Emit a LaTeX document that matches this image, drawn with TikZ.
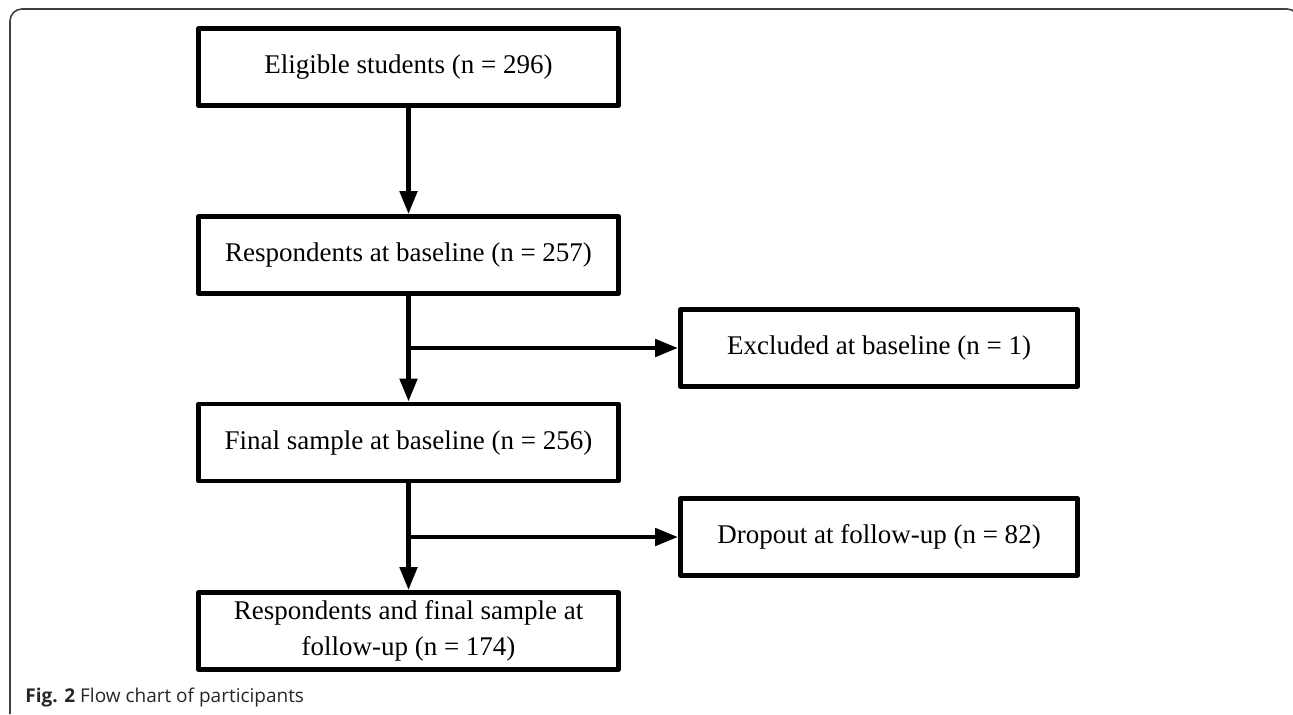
\documentclass[tikz,border=0pt]{standalone}
\usepackage{fontspec}
\setmainfont{Liberation Serif}
\newfontfamily\captionsans{Open Sans}
\usetikzlibrary{arrows.meta}
\begin{document}
\begin{tikzpicture}[x=0.5pt,y=-0.5pt,line join=round,
	>={Triangle[length=11.5pt,width=8.5pt]},
	stagebox/.style={draw,line width=2.4pt,minimum width=210pt,minimum height=38.5pt,inner sep=2pt,
		align=center,font=\fontsize{13.5}{18}\selectfont},
	lossbox/.style={stagebox,minimum width=198.5pt},
	flow/.style={->,line width=2.4pt}]
	\useasboundingbox (0,0) rectangle (1293,714);
	\clip (0,0) rectangle (1293,714);
	% frame and caption
	\draw[black!75,line width=0.8pt,rounded corners=6pt] (10,714) -- (10,9) -- (1299,9) -- (1299,714);
	\node[anchor=base west,inner sep=0pt,text=black!85,font=\captionsans\fontsize{9.5}{11}\selectfont] (cap) at (25,702) {\textbf{Fig. 2} Flow chart of participants};
	% boxes
	\node[stagebox] (elig) at (408.5,67) {Eligible students (n = 296)};
	\node[stagebox] (resp) at (408.5,255) {Respondents at baseline (n = 257)};
	\node[stagebox] (final) at (408.5,442.5) {Final sample at baseline (n = 256)};
	\node[stagebox] (follow) at (408.5,631) {Respondents and final sample at\\follow-up (n = 174)};
	\node[lossbox] (excl) at (879,348) {Excluded at baseline (n = 1)};
	\node[lossbox] (drop) at (879,537) {Dropout at follow-up (n = 82)};
	% arrows
	\draw[flow] (elig) -- (resp);
	\draw[flow] (resp) -- (final);
	\draw[flow] (final) -- (follow);
	\draw[flow] (resp.south |- excl.west) -- (excl.west);
	\draw[flow] (final.south |- drop.west) -- (drop.west);
\end{tikzpicture}
\end{document}
